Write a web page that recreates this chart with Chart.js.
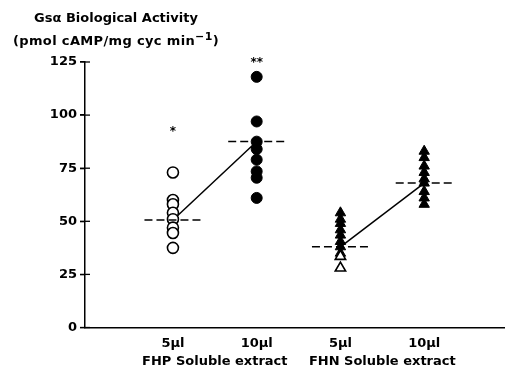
<!DOCTYPE html>
<html><head><meta charset="utf-8">
<script src="https://cdn.jsdelivr.net/npm/chart.js@4"></script>
<style>
html,body{margin:0;padding:0;background:#fff;}
#wrap{position:relative;width:505px;height:368px;}
canvas{position:absolute;left:0;top:0}
#title{position:absolute;left:0;top:6px;width:232px;text-align:center;font:bold 13px "DejaVu Sans";line-height:23px;color:#000}
#title .l2{letter-spacing:0.35px}
#title sup{font-size:11px;line-height:0}
</style></head><body>
<div id="wrap"><canvas id="c" width="505" height="368"></canvas>
<div id="title">Gsα Biological Activity<br><span class="l2">(pmol cAMP/mg cyc min<sup>−1</sup>)</span></div></div>
<script>
// ---- data ----
const categories = ['5µl', '10µl', '5µl', '10µl'];
const groupLabels = ['FHP Soluble extract', 'FHN Soluble extract'];
const yTicks = [0, 25, 50, 75, 100, 125];
const fhp5 = [73, 60, 58, 54, 51, 47, 44.5, 37.5];
const fhp10 = [118, 97, 87.5, 84, 79, 73.5, 70.5, 61];
const fhn5Filled = [54, 51, 49, 46, 43.5, 40.5, 38, 35];
const fhn5Open = [33.5, 28];
const fhn10 = [83, 80, 76, 73, 70, 68, 64, 61, 58];
const fhpMeans = [50.6, 87.6];
const fhnMeans = [38, 68];
const significance = [{cat: 0, y: 92.2, text: '*'}, {cat: 1, y: 124.5, text: '**'}];

const catPos = [1, 2, 3, 4];
const groupPos = [1.5, 3.5];
const meanHalf = 0.34;
const FONT = '"DejaVu Sans"';

const pts = (cat, arr) => arr.map(v => ({x: catPos[cat], y: v}));
const meanSeg = (cat, m) => [{x: catPos[cat] - meanHalf, y: m}, {x: catPos[cat] + meanHalf, y: m}];

const datasets = [
  {data: pts(0, fhp5), pointStyle: 'circle', pointRadius: 5.5, pointBorderWidth: 1.6, pointBackgroundColor: '#fff', pointBorderColor: '#000', order: 1},
  {data: pts(1, fhp10), pointStyle: 'circle', pointRadius: 5.5, pointBorderWidth: 1, pointBackgroundColor: '#000', pointBorderColor: '#000', order: 1},
  {data: pts(2, fhn5Filled), pointStyle: 'triangle', pointRadius: 6, pointBorderWidth: 1, pointBackgroundColor: '#000', pointBorderColor: '#000', order: 2},
  {data: pts(2, fhn5Open), pointStyle: 'triangle', pointRadius: 6, pointBorderWidth: 1.6, pointBackgroundColor: '#fff', pointBorderColor: '#000', order: 1},
  {data: pts(3, fhn10), pointStyle: 'triangle', pointRadius: 6, pointBorderWidth: 1, pointBackgroundColor: '#000', pointBorderColor: '#000', order: 1},
  {data: [{x: catPos[0], y: fhpMeans[0]}, {x: catPos[1], y: fhpMeans[1]}], showLine: true, borderColor: '#000', borderWidth: 1.5, pointRadius: 0, order: 3},
  {data: [{x: catPos[2], y: fhnMeans[0]}, {x: catPos[3], y: fhnMeans[1]}], showLine: true, borderColor: '#000', borderWidth: 1.5, pointRadius: 0, order: 3},
  {data: meanSeg(0, fhpMeans[0]), showLine: true, borderColor: '#000', borderWidth: 1.6, borderDash: [8, 4], pointRadius: 0, order: 0},
  {data: meanSeg(1, fhpMeans[1]), showLine: true, borderColor: '#000', borderWidth: 1.6, borderDash: [8, 4], pointRadius: 0, order: 0},
  {data: meanSeg(2, fhnMeans[0]), showLine: true, borderColor: '#000', borderWidth: 1.6, borderDash: [8, 4], pointRadius: 0, order: 0},
  {data: meanSeg(3, fhnMeans[1]), showLine: true, borderColor: '#000', borderWidth: 1.6, borderDash: [8, 4], pointRadius: 0, order: 0}
];

const extras = {
  id: 'extras',
  afterDraw(chart) {
    const ctx = chart.ctx, y = chart.scales.y, x = chart.scales.x;
    ctx.save();
    ctx.strokeStyle = '#000'; ctx.lineWidth = 1.3;
    yTicks.forEach(v => {
      const py = y.getPixelForValue(v);
      ctx.beginPath(); ctx.moveTo(y.right - 5, py); ctx.lineTo(y.right + 5, py); ctx.stroke();
    });
    ctx.fillStyle = '#000';
    ctx.font = 'bold 12px ' + FONT;
    ctx.textAlign = 'center'; ctx.textBaseline = 'middle';
    significance.forEach(s => {
      ctx.fillText(s.text, x.getPixelForValue(catPos[s.cat]), y.getPixelForValue(s.y));
    });
    ctx.restore();
  }
};

const labelMap = {};
catPos.forEach((p, i) => labelMap[p] = [categories[i]]);
groupPos.forEach((p, i) => labelMap[p] = ['', groupLabels[i]]);

new Chart(document.getElementById('c'), {
  type: 'scatter',
  data: {datasets},
  options: {
    responsive: false, animation: false, devicePixelRatio: 1,
    layout: {autoPadding: false, padding: {top: 62, right: 0, left: 0, bottom: 0}},
    plugins: {legend: {display: false}, tooltip: {enabled: false}, title: {display: false}},
    scales: {
      x: {
        type: 'linear', min: -0.05, max: 4.965,
        afterBuildTicks: s => { s.ticks = [...catPos, ...groupPos].sort((a, b) => a - b).map(v => ({value: v})); },
        afterFit: s => { s.height = 40.5; },
        ticks: {autoSkip: false, maxRotation: 0, padding: 7, color: '#000', font: {family: FONT, size: 13, weight: 'bold', lineHeight: 1.4}, callback: v => labelMap[v] || ''},
        grid: {display: false, drawTicks: false},
        border: {display: true, color: '#000', width: 1.5}
      },
      y: {
        min: 0, max: 125,
        afterBuildTicks: s => { s.ticks = yTicks.map(v => ({value: v})); },
        afterFit: s => { s.width = 85; },
        ticks: {padding: 3, color: '#000', font: {family: FONT, size: 13, weight: 'bold'}},
        grid: {display: true, drawOnChartArea: false, drawTicks: true, tickLength: 5, color: '#000', lineWidth: 1.3},
        border: {display: true, color: '#000', width: 1.5}
      }
    }
  },
  plugins: [extras]
});
</script>
</body></html>
